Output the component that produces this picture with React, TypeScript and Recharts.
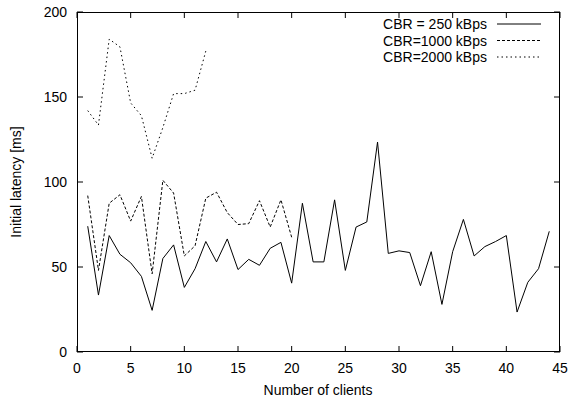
import { LineChart, Line, XAxis, YAxis } from "recharts";

const clients = [
  1, 2, 3, 4, 5, 6, 7, 8, 9, 10, 11, 12, 13, 14, 15, 16, 17, 18, 19, 20, 21,
  22, 23, 24, 25, 26, 27, 28, 29, 30, 31, 32, 33, 34, 35, 36, 37, 38, 39, 40,
  41, 42, 43, 44,
];

const cbr250 = [
  74, 33.5, 68.5, 57.5, 52.5, 44.5, 24.5, 55, 63, 38, 49, 65, 53, 66.5, 48.5,
  54.5, 51, 61, 64.5, 40.5, 87.5, 53, 53, 89.5, 48, 73.5, 76.5, 123.5, 58, 59.5,
  58.5, 39, 59, 28, 59, 78, 56.5, 62, 65, 68.5, 23.5, 41, 49, 71,
];

const cbr1000 = [
  92, 48, 87.5, 92.5, 77, 91.5, 46, 101, 93.5, 56.5, 62.5, 90.5, 94, 82, 75,
  75.5, 89, 73.5, 89.5, 67.5,
];

const cbr2000 = [142, 133.5, 184, 179.5, 146.5, 139, 114, 132, 152, 152, 154, 177];

const xTicks = [0, 5, 10, 15, 20, 25, 30, 35, 40, 45];
const yTicks = [0, 50, 100, 150, 200];

const series = [
  { key: "cbr250", name: "CBR = 250 kBps", dash: undefined },
  { key: "cbr1000", name: "CBR=1000 kBps", dash: "3 2" },
  { key: "cbr2000", name: "CBR=2000 kBps", dash: "1.5 3" },
];

const data = clients.map((c, i) => ({
  x: c,
  cbr250: cbr250[i],
  cbr1000: cbr1000[i],
  cbr2000: cbr2000[i],
}));

const FONT = "'Liberation Sans', Arial, sans-serif";
const TICK = 6;

// plot box, shared by the chart margins and the frame overlay
const W = 569;
const H = 403;
const LEFT = 77;
const TOP = 12;
const RIGHT = 560;
const BOTTOM = 352;

const px = (v: number) => LEFT + (v / 45) * (RIGHT - LEFT);
const py = (v: number) => BOTTOM - (v / 200) * (BOTTOM - TOP);

const BottomTick = ({ x, y, payload }: any) => (
  <text x={x} y={y + 21} textAnchor="middle" fontSize={14} fontFamily={FONT} fill="#000">
    {payload.value}
  </text>
);

const LeftTick = ({ x, y, payload }: any) => (
  <text x={x - 10} y={y + 5} textAnchor="end" fontSize={14} fontFamily={FONT} fill="#000">
    {payload.value}
  </text>
);

export default function App() {
  return (
    <div style={{ position: "absolute", left: 0, top: 0 }}>
      <LineChart
        width={W}
        height={H}
        data={data}
        margin={{ top: TOP, right: W - RIGHT, bottom: 0, left: 0 }}
      >
        <XAxis
          dataKey="x"
          type="number"
          domain={[0, 45]}
          ticks={xTicks}
          height={H - BOTTOM}
          tickSize={0}
          tickMargin={0}
          tick={<BottomTick />}
          axisLine={false}
          tickLine={false}
        />
        <YAxis
          type="number"
          domain={[0, 200]}
          ticks={yTicks}
          width={LEFT}
          tickSize={0}
          tickMargin={0}
          tick={<LeftTick />}
          axisLine={false}
          tickLine={false}
        />
        {series.map((s) => (
          <Line
            key={s.key}
            dataKey={s.key}
            name={s.name}
            type="linear"
            stroke="#000"
            strokeWidth={1}
            strokeDasharray={s.dash}
            dot={false}
            activeDot={false}
            isAnimationActive={false}
          />
        ))}
      </LineChart>
      <svg
        width={W}
        height={H}
        style={{ position: "absolute", left: 0, top: 0, pointerEvents: "none" }}
      >
        {/* gnuplot-style frame with inward ticks on all four sides */}
        <rect
          x={LEFT + 0.5}
          y={TOP + 0.5}
          width={RIGHT - LEFT - 1}
          height={BOTTOM - TOP - 1}
          fill="none"
          stroke="#000"
        />
        {xTicks.map((v) => (
          <g key={`x${v}`}>
            <line x1={px(v)} x2={px(v)} y1={BOTTOM} y2={BOTTOM - TICK} stroke="#000" />
            <line x1={px(v)} x2={px(v)} y1={TOP} y2={TOP + TICK} stroke="#000" />
          </g>
        ))}
        {yTicks.map((v) => (
          <g key={`y${v}`}>
            <line x1={LEFT} x2={LEFT + TICK} y1={py(v)} y2={py(v)} stroke="#000" />
            <line x1={RIGHT} x2={RIGHT - TICK} y1={py(v)} y2={py(v)} stroke="#000" />
          </g>
        ))}
        <text x={318} y={395} textAnchor="middle" fontSize={14} fontFamily={FONT} fill="#000">
          Number of clients
        </text>
        <text
          x={21}
          y={182}
          textAnchor="middle"
          fontSize={14}
          fontFamily={FONT}
          fill="#000"
          transform="rotate(-90, 21, 182)"
        >
          Initial latency [ms]
        </text>
        {series.map((s, i) => (
          <g key={s.key}>
            <text
              x={487}
              y={29 + i * 16.5}
              textAnchor="end"
              fontSize={14}
              fontFamily={FONT}
              fill="#000"
            >
              {s.name}
            </text>
            <line
              x1={497}
              x2={541}
              y1={24 + i * 16.5}
              y2={24 + i * 16.5}
              stroke="#000"
              strokeDasharray={s.dash}
            />
          </g>
        ))}
      </svg>
    </div>
  );
}
